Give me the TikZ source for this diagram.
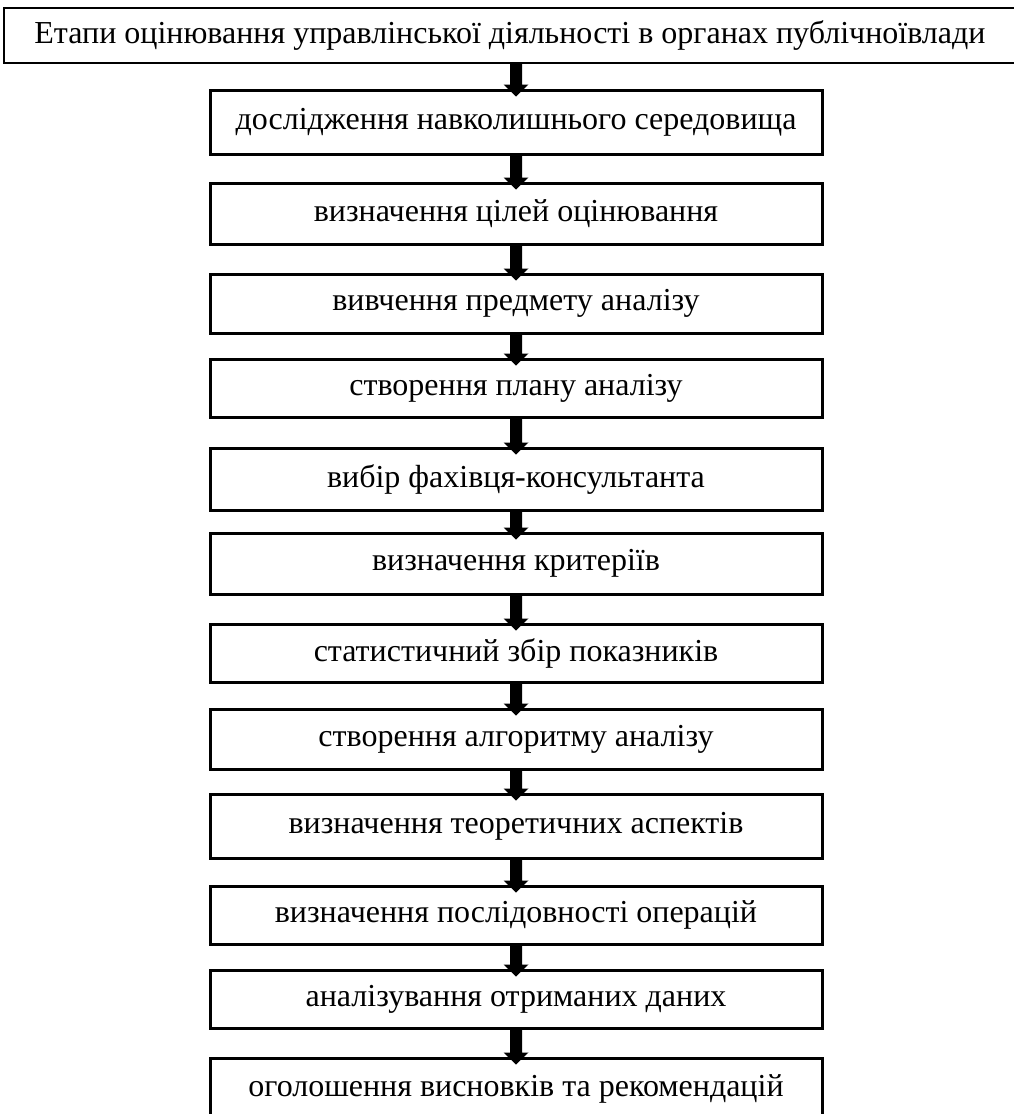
\documentclass[tikz,border=0pt]{standalone}
\usepackage{fontspec}
\setmainfont{Liberation Serif}
\usetikzlibrary{calc}
\tikzset{
  stagebox/.style={draw=black, line width=3pt, rectangle, minimum width=612pt, inner sep=0pt,
    font=\fontsize{32}{38}\selectfont, text=black},
  titlebox/.style={stagebox, line width=2.8pt, minimum width=1012pt},
  flowarrow/.style={fill=black, draw=none}
}
\newcommand{\flowarr}[2]{%
  \fill[flowarrow] ($(#2.north |- #1.south)+(-6,-1)$) -- ($(#2.north)+(-6,-4)$) -- ($(#2.north)+(-12.5,-4)$)
    -- ($(#2.north)+(0,8)$) -- ($(#2.north)+(12.5,-4)$) -- ($(#2.north)+(6,-4)$)
    -- ($(#2.north |- #1.south)+(6,-1)$) -- cycle;}
\begin{document}
\begin{tikzpicture}[x=1pt,y=-1pt]
\useasboundingbox (0,0) rectangle (1014,1114);
\node[titlebox, minimum height=55pt] (t) at (510,35.5) {Етапи оцінювання управлінської діяльності в органах публічноївлади};
\node[stagebox, minimum height=64pt] (s1) at (516,122) {дослідження навколишнього середовища};
\node[stagebox, minimum height=61pt] (s2) at (516,213.5) {визначення цілей оцінювання};
\node[stagebox, minimum height=59pt] (s3) at (516,303.5) {вивчення предмету аналізу};
\node[stagebox, minimum height=58pt] (s4) at (516,388) {створення плану аналізу};
\node[stagebox, minimum height=62pt] (s5) at (516,479) {вибір фахівця-консультанта};
\node[stagebox, minimum height=61pt] (s6) at (516,563.5) {визначення критеріїв};
\node[stagebox, minimum height=58pt] (s7) at (516,653) {статистичний збір показників};
\node[stagebox, minimum height=60pt] (s8) at (516,739) {створення алгоритму аналізу};
\node[stagebox, minimum height=64pt] (s9) at (516,826) {визначення теоретичних аспектів};
\node[stagebox, minimum height=58pt] (s10) at (516,915) {визначення послідовності операцій};
\node[stagebox, minimum height=58pt] (s11) at (516,999) {аналізування отриманих даних};
\node[stagebox, minimum height=62pt] (s12) at (516,1089) {оголошення висновків та рекомендацій};
\flowarr{t}{s1}
\foreach \a/\b in {s1/s2,s2/s3,s3/s4,s4/s5,s5/s6,s6/s7,s7/s8,s8/s9,s9/s10,s10/s11,s11/s12}{
  \flowarr{\a}{\b}
}
\end{tikzpicture}
\end{document}
